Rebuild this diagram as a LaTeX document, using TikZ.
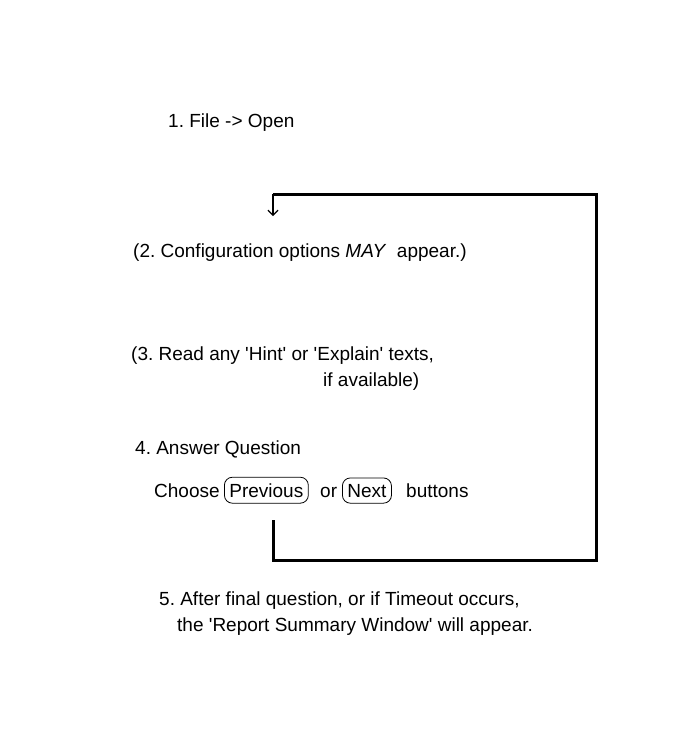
\documentclass[tikz,border=0pt]{standalone}
\usepackage{fontspec}
\newfontfamily\uifont{Liberation Sans}
\usetikzlibrary{positioning,arrows.meta}
\begin{document}
\frenchspacing
\begin{tikzpicture}[
        x=1pt, y=-1pt,
        >={Straight Barb[length=5pt,width=10pt]},
        stepnote/.style={anchor=base west, inner sep=0pt, font=\uifont\fontsize{19}{23}\selectfont, align=left},
        btn/.style={draw, anchor=base west, rounded corners=8pt, inner xsep=5pt, inner ysep=6pt, line width=0.8pt, font=\uifont\fontsize{19}{23}\selectfont},
        loop/.style={line width=3pt}
    ]
        \useasboundingbox (0,0) rectangle (700,750);

        % Steps
        \node[stepnote] (open) at (168,127) {1. File -> Open};
        \node[stepnote] (config) at (133,257) {(2. Configuration options \textit{MAY}\ \ appear.)};
        \node[stepnote] (hint) at (131,360) {(3. Read any 'Hint' or 'Explain' texts,};
        \node[stepnote] (avail) at (323,386) {if available)};
        \node[stepnote] (answer) at (135,454) {4. Answer Question};

        % Buttons line
        \node[stepnote] (choose) at (154,497) {Choose};
        \node[btn] (prev) at (224,497) {Previous};
        \node[stepnote] (or) at (320,497) {or};
        \node[btn] (next) at (342,497) {Next};
        \node[stepnote] (buttons) at (406,497) {buttons};

        \node[stepnote] (report) at (159,605) {5. After final question, or if Timeout occurs,};
        \node[stepnote] (report2) at (177,631) {the 'Report Summary Window' will appear.};

        % Loop back
        \coordinate (loopstart) at (273,520);
        \coordinate (looptop) at (273,194);
        \coordinate (looptip) at (273,216);
        \draw[loop] (loopstart) -- (273,560) -- (596,560) -- (596,194) -- (looptop);
        \draw[->, line width=1.2pt] (looptop) -- (looptip);
    \end{tikzpicture}
\end{document}
